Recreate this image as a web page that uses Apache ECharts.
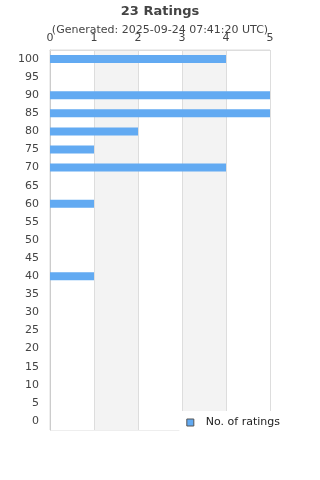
<!doctype html>
<html>
	<head>
		<meta charset="UTF-8">
		<title>23 Ratings</title>
		<style>
			html, body { margin: 0; padding: 0; background: #fff; }
			#chart { width: 320px; height: 480px; }
		</style>
	</head>
	<body>
		<div id="chart"></div>
		<script src="https://cdn.jsdelivr.net/npm/echarts@6/dist/echarts.min.js"></script>
		<script type="text/javascript">
			// rating buckets, bottom to top
			var ratingLabels = ['0', '5', '10', '15', '20', '25', '30', '35', '40', '45', '50',
				'55', '60', '65', '70', '75', '80', '85', '90', '95', '100'];
			// number of ratings per bucket
			var ratingCounts = [0, 0, 0, 0, 0, 0, 0, 0, 1, 0, 0,
				0, 1, 0, 4, 1, 2, 5, 5, 0, 4];
			var titleText = '23 Ratings';
			var subText = '(Generated: 2025-09-24 07:41:20 UTC)';
			var seriesName = 'No. of ratings';

			var font = 'DejaVu Sans';
			var chart = echarts.init(document.getElementById('chart'));

			var option = {
				animation: false,
				title: {
					text: titleText,
					subtext: subText,
					left: 'center',
					top: 0,
					itemGap: 7,
					textStyle: { fontFamily: font, fontSize: 13, fontWeight: 'bold', color: '#444' },
					subtextStyle: { fontFamily: font, fontSize: 11, color: '#444' }
				},
				legend: {
					data: [seriesName],
					right: 0,
					top: 411,
					backgroundColor: '#fff',
					padding: [6, 40, 20, 7],
					icon: 'rect',
					itemWidth: 7,
					itemHeight: 7,
					itemGap: 10,
					itemStyle: { borderColor: '#555', borderWidth: 1 },
					textStyle: { fontFamily: font, fontSize: 11, color: '#222', padding: [0, 0, 0, 7] }
				},
				grid: {
					left: 50,
					right: 50,
					top: 50,
					bottom: 50,
					show: true,
					borderColor: '#ddd',
					borderWidth: 1
				},
				xAxis: {
					type: 'value',
					position: 'top',
					min: 0,
					max: 5,
					interval: 1,
					axisLine: { show: true, lineStyle: { color: '#ddd' } },
					axisTick: { show: false },
					axisLabel: { fontFamily: font, fontSize: 11, color: '#444', margin: 6 },
					splitLine: { lineStyle: { color: '#ddd' } },
					splitArea: { show: true, areaStyle: { color: ['#fff', '#f3f3f3'] } }
				},
				yAxis: {
					type: 'category',
					data: ratingLabels,
					axisLine: { lineStyle: { color: '#ccc' } },
					axisTick: { show: false },
					axisLabel: { fontFamily: font, fontSize: 11, color: '#444', margin: 11, interval: 0 }
				},
				series: [{
					name: seriesName,
					type: 'bar',
					data: ratingCounts,
					barWidth: 8,
					itemStyle: { color: '#62aaf2' }
				}]
			};

			chart.setOption(option);
		</script>
	</body>
</html>
